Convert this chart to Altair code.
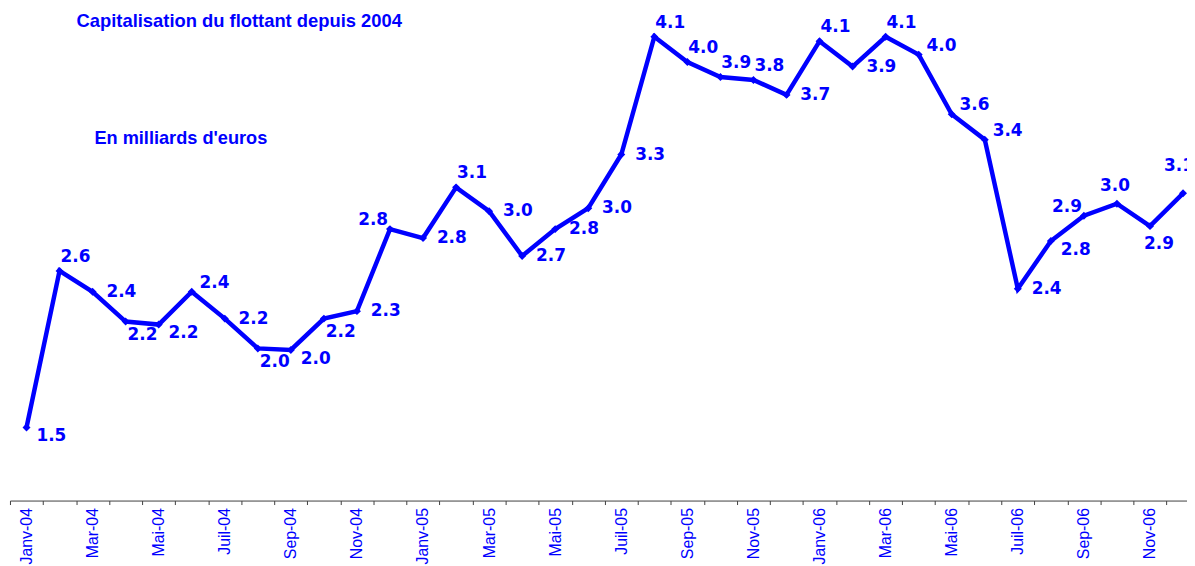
import altair as alt
import pandas as pd

# ---------------- data ----------------
months = [
    "Janv-04", "Févr-04", "Mar-04", "Avr-04", "Mai-04", "Juin-04",
    "Juil-04", "Août-04", "Sep-04", "Oct-04", "Nov-04", "Déc-04",
    "Janv-05", "Févr-05", "Mar-05", "Avr-05", "Mai-05", "Juin-05",
    "Juil-05", "Août-05", "Sep-05", "Oct-05", "Nov-05", "Déc-05",
    "Janv-06", "Févr-06", "Mar-06", "Avr-06", "Mai-06", "Juin-06",
    "Juil-06", "Août-06", "Sep-06", "Oct-06", "Nov-06", "Déc-06",
]
values = [
    1.51, 2.56, 2.42, 2.22, 2.20, 2.42, 2.24, 2.04, 2.03, 2.24, 2.29, 2.84,
    2.78, 3.12, 2.96, 2.66, 2.84, 2.98, 3.34, 4.13, 3.96, 3.86, 3.84, 3.74,
    4.10, 3.93, 4.13, 4.01, 3.61, 3.44, 2.44, 2.76, 2.93, 3.01, 2.86, 3.08,
]
# label placement around each point (compass-style codes)
label_pos = [
    "ESE", "NE", "E", "SE", "ESE", "ENE", "E", "SE", "ESE", "SE", "E", "NW",
    "E", "NE", "E", "E", "E", "E", "E", "NE", "NE", "NE", "NE", "E",
    "NE", "E", "NE", "ENE", "ENE", "ENE", "E", "ESE", "NW", "N", "S", "NN",
]
title_text = "Capitalisation du flottant depuis 2004"
unit_text = "En milliards d'euros"
# every other month is labelled on the axis
axis_labels = [m if i % 2 == 0 else "" for i, m in enumerate(months)]

# ---------------- style ----------------
BLUE = "#0000FF"
AXIS_GREY = "#404040"
OFFSETS = {
    "E": (29, 0), "NE": (16, -14), "SE": (17, 14), "ESE": (25, 9),
    "ENE": (23, -9), "NW": (-17, -9), "N": (-2, -18), "S": (9, 18),
    "NN": (-4, -27),
}
PLOT_W = 1185
X_DOMAIN = [-0.5, 35.12]   # the last month runs past the right edge, as in the original
STEP = PLOT_W / (X_DOMAIN[1] - X_DOMAIN[0])

df = pd.DataFrame({
    "idx": list(range(len(months))),
    "month": months,
    "value": values,
    "pos": label_pos,
})

label_expr = (
    "[" + ",".join("'" + m + "'" for m in axis_labels) + "][round(datum.value + 0.5)]"
)
tick_values = [i - 0.5 for i in range(len(months) + 1)]

x_enc = alt.X(
    "idx:Q",
    scale=alt.Scale(domain=X_DOMAIN, nice=False, zero=False),
    axis=alt.Axis(
        title=None,
        values=tick_values,
        labelAngle=270,
        labelAlign="right",
        labelBaseline="middle",
        labelFont="Liberation Sans",
        labelFontSize=16,
        labelColor=BLUE,
        labelPadding=3,
        labelOffset=STEP / 2,
        labelOverlap=False,
        labelFlush=False,
        labelBound=False,
        labelExpr=label_expr,
        tickSize=4,
        tickColor=AXIS_GREY,
        domainColor=AXIS_GREY,
        grid=False,
    ),
)
y_enc = alt.Y(
    "value:Q",
    scale=alt.Scale(domain=[1.02, 4.31], nice=False, zero=False),
    axis=None,
)

base = alt.Chart(df)
line = base.mark_line(color=BLUE, strokeWidth=4.5).encode(x=x_enc, y=y_enc)
points = base.mark_point(
    shape="diamond", filled=True, size=64, color=BLUE, opacity=1
).encode(x=x_enc, y=y_enc)

text_layers = []
for code, (dx, dy) in OFFSETS.items():
    text_layers.append(
        base.transform_filter(alt.datum.pos == code)
        .mark_text(
            dx=dx, dy=dy, align="center", baseline="middle",
            font="DejaVu Sans", fontWeight="bold", fontSize=17, color=BLUE,
        )
        .encode(x=x_enc, y=y_enc, text=alt.Text("value:Q", format=".1f"))
    )

title_df = pd.DataFrame({"t": [title_text]})
unit_df = pd.DataFrame({"t": [unit_text]})
title_mark = alt.Chart(title_df).mark_text(
    align="left", baseline="middle", font="Liberation Sans",
    fontWeight="bold", fontSize=18.5, color=BLUE,
).encode(x=alt.value(67), y=alt.value(11), text="t:N")
unit_mark = alt.Chart(unit_df).mark_text(
    align="left", baseline="middle", font="Liberation Sans",
    fontWeight="bold", fontSize=18.3, color=BLUE,
).encode(x=alt.value(85), y=alt.value(130), text="t:N")

chart = (
    alt.layer(line, points, *text_layers, title_mark, unit_mark)
    .properties(
        width=PLOT_W,
        height=494,
        autosize=alt.AutoSizeParams(type="none"),
        padding={"left": 2, "top": 0, "right": 0, "bottom": 64},
        background="white",
    )
    .configure_view(stroke=None)
)

chart.save("out.html", embed_options={"renderer": "svg", "actions": False})
